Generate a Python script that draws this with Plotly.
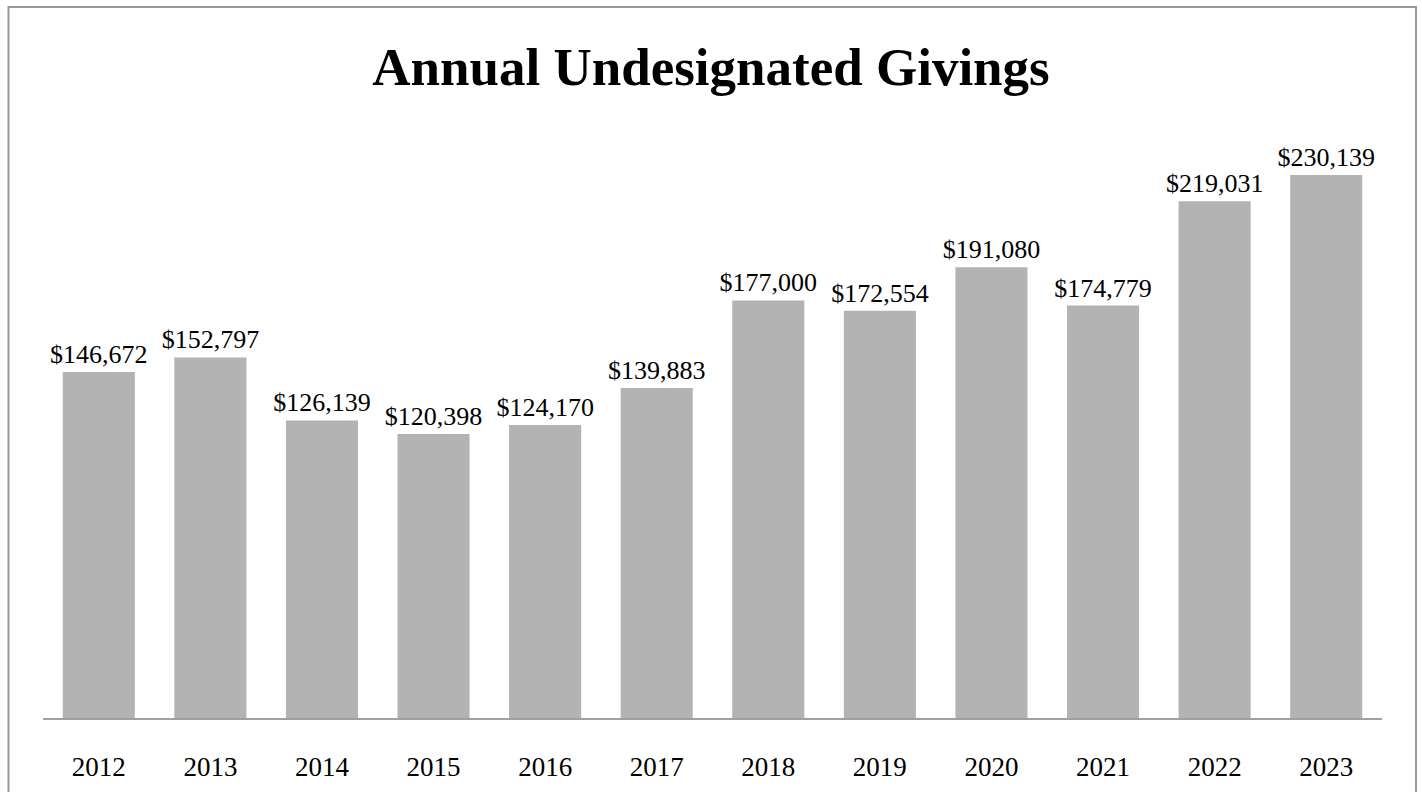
import plotly.graph_objects as go

years = ["2012", "2013", "2014", "2015", "2016", "2017", "2018", "2019", "2020", "2021", "2022", "2023"]
givings = [146672, 152797, 126139, 120398, 124170, 139883, 177000, 172554, 191080, 174779, 219031, 230139]
labels = ["$146,672", "$152,797", "$126,139", "$120,398", "$124,170", "$139,883",
          "$177,000", "$172,554", "$191,080", "$174,779", "$219,031", "$230,139"]

FONT = "Liberation Serif"
L, R_, T, B = 43, 40, 100, 74
W, H = 1422, 792
pw = W - L - R_
ph = H - T - B

fig = go.Figure(go.Bar(
    x=years, y=givings, text=labels, textposition="outside",
    textfont=dict(family=FONT, size=26, color="#000000"),
    constraintext="none",
    marker=dict(color="#b3b3b3", line=dict(width=0)),
    cliponaxis=False, hoverinfo="skip",
))

fig.update_layout(
    width=W, height=H,
    margin=dict(l=L, r=R_, t=T, b=B, autoexpand=False),
    paper_bgcolor="white", plot_bgcolor="white",
    bargap=0.354,
    showlegend=False,
    title=dict(text="<b>Annual Undesignated Givings</b>", x=0.5, xanchor="center",
               y=1 - 66 / H, yanchor="middle",
               font=dict(family=FONT, size=53, color="#000000")),
    xaxis=dict(showline=True, linecolor="#a0a0a0", linewidth=1.5, ticks="",
               tickfont=dict(family=FONT, size=27, color="#000000"),
               ticklabelstandoff=24, automargin=False, showgrid=False, zeroline=False),
    yaxis=dict(range=[0, 618 * 230139 / 543], visible=False, showgrid=False, zeroline=False,
               automargin=False),
)

fig.add_shape(type="rect", xref="paper", yref="paper",
              x0=(8.5 - L) / pw, x1=(1416 - L) / pw,
              y0=-0.3, y1=(718 - 7) / ph,
              line=dict(color="#999999", width=2), fillcolor="rgba(0,0,0,0)", layer="below")

fig.write_html("out.html")
